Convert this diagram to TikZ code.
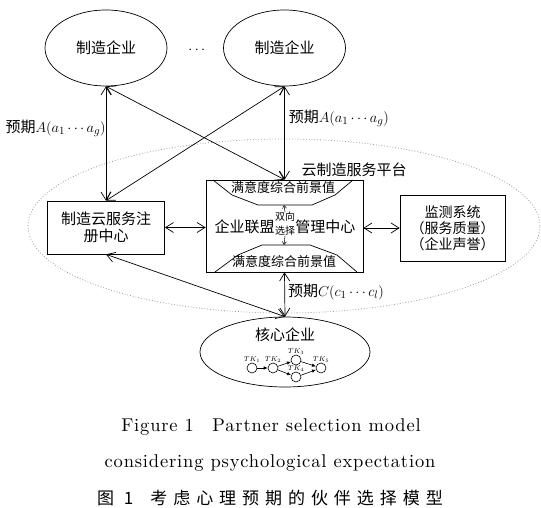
\documentclass[tikz,border=0pt]{standalone}
\usepackage{fontspec}
\usepackage{amsmath}
\usetikzlibrary{shapes.geometric, arrows.meta, positioning}
\newfontfamily\cjk{Noto Sans CJK SC}
\newfontfamily\cjkCap[LetterSpace=35]{Noto Sans CJK SC}
\newfontfamily\capFont[LetterSpace=4.5]{lmroman10-regular.otf}
\newcommand*{\sizePt}[2]{\fontsize{#1}{#2}\selectfont}
\newcommand*{\tkNode}[4]{\node at (#2,#3)[tk, label={[tkText]above:$TK_{#4}$}] (#1) {};} % name, x, y, index
\tikzset{
    firm/.style={ellipse, draw, line width=0.7pt, minimum width=122pt, minimum height=76pt, inner sep=0pt, font=\cjk\sizePt{15}{17}},
    box/.style={draw, rectangle, line width=0.7pt, align=center, inner sep=0pt, font=\cjk\sizePt{15}{17}},
    plain/.style={inner sep=0pt, align=center, font=\cjk\sizePt{15}{17}},
    capText/.style={inner sep=0pt, font=\cjk\sizePt{13}{13}},
    platform/.style={ellipse, draw=gray!80, dotted, line width=0.8pt, minimum width=512pt, minimum height=174pt},
    biArrow/.style={line width=0.7pt, {Straight Barb[length=8pt,width=10pt]}-{Straight Barb[length=8pt,width=10pt]}},
    smallArrow/.style={line width=0.5pt, -{Straight Barb[length=3pt,width=4pt]}},
    tk/.style={circle, draw, line width=0.6pt, minimum size=10pt, inner sep=0pt},
    tkText/.style={inner sep=0.5pt, font=\sizePt{7}{7}},
    tkArrow/.style={line width=0.6pt, -{Latex[length=4pt,width=3.5pt]}},
    figText/.style={inner sep=0pt, font=\capFont\sizePt{18.5}{20}},
    figCn/.style={inner sep=0pt, font=\cjkCap\sizePt{17}{17}}
}

\begin{document}
\begin{tikzpicture}[x=1pt, y=-1pt]
\useasboundingbox (0,0) rectangle (541,508);
% cloud platform
\node at (284,226)[platform] (platform) {};
\node at (354,170)[plain] (platformText) {云制造服务平台};
% manufacturers
\node at (106,48)[firm] (firmL) {制造企业};
\node at (284.5,48)[firm] (firmR) {制造企业};
\node at (198,50)[plain] (dots) {$\cdots$};
% boxes
\node at (106,227.5)[box, minimum width=117pt, minimum height=53pt] (reg) {制造云服务注\\册中心};
\node at (284.5,226)[box, minimum width=157pt, minimum height=92pt] (alliance) {};
\node at (452.5,228)[box, minimum width=105pt, minimum height=66pt, font=\cjk\sizePt{14}{16}] (monitor) {监测系统\\（服务质量）\\（企业声誉）};
% inside the alliance box
\draw[line width=0.7pt] (213,180) -- (232,195) -- (258,205) -- (312,205) -- (335,195) -- (353,180);
\draw[line width=0.7pt] (215,272) -- (238,255) -- (262,245) -- (310,245) -- (337,255) -- (357,272);
\node at (283,188)[capText] (capTop) {满意度综合前景值};
\node at (284,262)[capText] (capBot) {满意度综合前景值};
\coordinate (capTopIn) at (284,205);
\coordinate (capBotIn) at (284,245);
\node at (285,224)[plain, font=\cjk\sizePt{10}{14}] (choice) {双向\\选择};
\node[plain, left=0pt of choice, yshift=-3pt] (allianceL) {企业联盟};
\node[plain, right=0pt of choice, yshift=-3pt] (allianceR) {管理中心};
\draw[smallArrow] (choice.north) -- (capTopIn);
\draw[smallArrow] (choice.south) -- (capBotIn);
% core enterprise
\node at (285,352)[firm, minimum width=170pt, minimum height=70pt] (core) {};
\node at (285,335)[plain] (coreText) {核心企业};
\tkNode{tk1}{252}{368}{1}
\tkNode{tk2}{273}{368}{2}
\tkNode{tk3}{296}{360}{3}
\tkNode{tk4}{296}{377}{4}
\tkNode{tk5}{321}{368}{5}
\draw[tkArrow] (tk1) -- (tk2);
\draw[tkArrow] (tk2) -- (tk3);
\draw[tkArrow] (tk2) -- (tk4);
\draw[tkArrow] (tk3) -- (tk5);
\draw[tkArrow] (tk4) -- (tk5);
% connectors
\draw[biArrow] (firmL.south) -- (reg.north) node[pos=0.37, left, plain] (expA1) {预期$A(a_1\cdots a_g)$};
\draw[biArrow] (firmL.south) -- (alliance.north);
\draw[biArrow] (firmR.south) -- (reg.north);
\draw[biArrow] (firmR.south) -- (alliance.north) node[pos=0.34, right=4pt, plain] (expA2) {预期$A(a_1\cdots a_g)$};
\draw[biArrow] (reg.east) -- (reg.east -| alliance.west);
\draw[biArrow] (alliance.east |- monitor.west) -- (monitor.west);
\draw[biArrow] (reg.south) -- (core.north);
\draw[biArrow] (alliance.south) -- (core.north) node[pos=0.44, right=3pt, plain] (expC) {预期$C(c_1\cdots c_l)$};
% caption
\node at (271,427)[figText] (figEn1) {Figure 1\quad Partner selection model};
\node at (270,463)[figText] (figEn2) {considering psychological expectation};
\node at (270,498)[figCn] (figCn1) {图 1\quad 考虑心理预期的伙伴选择模型};
\end{tikzpicture}
\end{document}
